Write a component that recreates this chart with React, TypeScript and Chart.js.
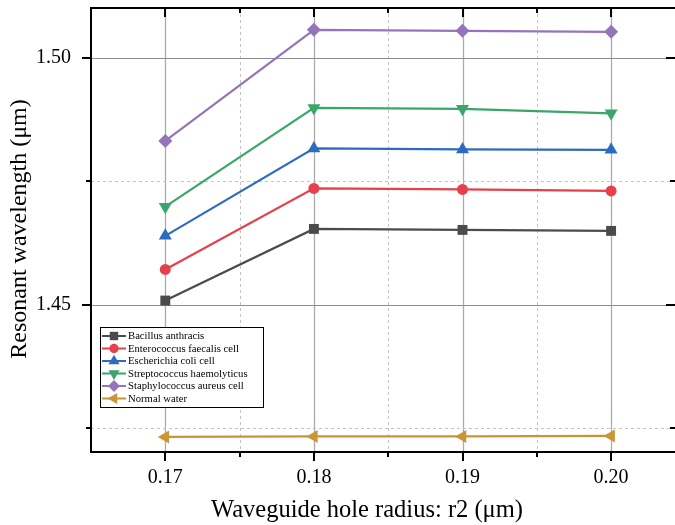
import React, { useEffect, useRef } from 'react';
import { Chart, registerables } from 'chart.js';

Chart.register(...registerables);

const radii = [0.17, 0.18, 0.19, 0.2];
const bacillus = [1.4509, 1.4654, 1.4652, 1.465];
const enterococcus = [1.4572, 1.4736, 1.4734, 1.4731];
const escherichia = [1.464, 1.4817, 1.4815, 1.4814];
const streptococcus = [1.4699, 1.4899, 1.4897, 1.4888];
const staphylococcus = [1.4832, 1.5057, 1.5055, 1.5053];
const normalWater = [1.4233, 1.4234, 1.4234, 1.4235];

const seriesNames = [
  'Bacillus anthracis',
  'Enterococcus faecalis cell',
  'Escherichia coli cell',
  'Streptococcus haemolyticus',
  'Staphylococcus aureus cell',
  'Normal water',
];

const xTickValues = [0.17, 0.175, 0.18, 0.185, 0.19, 0.195, 0.2];
const xMajorTicks = [0.17, 0.18, 0.19, 0.2];
const yTickValues = [1.425, 1.45, 1.475, 1.5];
const yMajorTicks = [1.45, 1.5];

const xTitle = 'Waveguide hole radius: r2 (\u03bcm)';
const yTitle = 'Resonant wavelength (\u03bcm)';

const SERIF = "'Liberation Serif', 'Times New Roman', serif";

const isMajor = (list: number[], v: number) => list.some((m) => Math.abs(m - v) < 1e-9);

type Style = { color: string; pointStyle: string; rotation: number; radius: number };
const styles: Style[] = [
  { color: '#4b4b4d', pointStyle: 'rect', rotation: 0, radius: 7 },
  { color: '#e5404b', pointStyle: 'circle', rotation: 0, radius: 5.5 },
  { color: '#2c6cbf', pointStyle: 'triangle', rotation: 0, radius: 7.5 },
  { color: '#3aa66a', pointStyle: 'triangle', rotation: 180, radius: 7.5 },
  { color: '#9475b9', pointStyle: 'rectRot', rotation: 0, radius: 7 },
  { color: '#c99535', pointStyle: 'triangle', rotation: -90, radius: 7.5 },
];

function drawMarker(ctx: CanvasRenderingContext2D, st: Style, x: number, y: number, r: number) {
  ctx.save();
  ctx.fillStyle = st.color;
  ctx.translate(x, y);
  ctx.rotate((st.rotation * Math.PI) / 180);
  ctx.beginPath();
  if (st.pointStyle === 'rect') {
    const s = Math.SQRT1_2 * r;
    ctx.rect(-s, -s, 2 * s, 2 * s);
  } else if (st.pointStyle === 'circle') {
    ctx.arc(0, 0, r, 0, Math.PI * 2);
  } else if (st.pointStyle === 'triangle') {
    ctx.moveTo(0, -r);
    ctx.lineTo(r * 0.866, r * 0.5);
    ctx.lineTo(-r * 0.866, r * 0.5);
    ctx.closePath();
  } else {
    ctx.moveTo(0, -r);
    ctx.lineTo(r, 0);
    ctx.lineTo(0, r);
    ctx.lineTo(-r, 0);
    ctx.closePath();
  }
  ctx.fill();
  ctx.restore();
}

const gridPlugin = {
  id: 'customGrid',
  beforeDatasetsDraw(chart: any) {
    const { ctx, chartArea: a, scales } = chart;
    const xs = scales.x;
    const ys = scales.y;
    ctx.save();
    xTickValues.forEach((v) => {
      const px = Math.round(xs.getPixelForValue(v)) + 0.5;
      const major = isMajor(xMajorTicks, v);
      ctx.beginPath();
      ctx.strokeStyle = major ? '#ababab' : '#c4c4c4';
      ctx.lineWidth = major ? 1.3 : 1;
      ctx.setLineDash(major ? [] : [3, 3]);
      ctx.moveTo(px, a.top);
      ctx.lineTo(px, a.bottom);
      ctx.stroke();
    });
    yTickValues.forEach((v) => {
      const py = Math.round(ys.getPixelForValue(v)) + 0.5;
      const major = isMajor(yMajorTicks, v);
      ctx.beginPath();
      ctx.strokeStyle = major ? '#8e8e8e' : '#c4c4c4';
      ctx.lineWidth = 1;
      ctx.setLineDash(major ? [] : [3, 3]);
      ctx.moveTo(a.left, py);
      ctx.lineTo(a.right, py);
      ctx.stroke();
    });
    ctx.restore();
  },
  afterDraw(chart: any) {
    const { ctx, chartArea: a, scales } = chart;
    const xs = scales.x;
    const ys = scales.y;
    ctx.save();
    ctx.setLineDash([]);
    ctx.strokeStyle = '#000';
    ctx.lineWidth = 2;
    // frame
    ctx.beginPath();
    ctx.moveTo(a.left, a.bottom);
    ctx.lineTo(a.left, a.top);
    ctx.lineTo(a.right, a.top);
    ctx.moveTo(a.left - 1, a.bottom);
    ctx.lineTo(a.right, a.bottom);
    ctx.stroke();
    // ticks
    ctx.lineWidth = 2;
    xTickValues.forEach((v) => {
      const px = Math.round(xs.getPixelForValue(v));
      const len = isMajor(xMajorTicks, v) ? 9 : 5;
      ctx.beginPath();
      ctx.moveTo(px, a.bottom);
      ctx.lineTo(px, a.bottom + len);
      ctx.moveTo(px, a.top);
      ctx.lineTo(px, a.top + len);
      ctx.stroke();
    });
    yTickValues.forEach((v) => {
      const py = Math.round(ys.getPixelForValue(v));
      const len = isMajor(yMajorTicks, v) ? 9 : 5;
      ctx.beginPath();
      ctx.moveTo(a.left, py);
      ctx.lineTo(a.left - len, py);
      ctx.moveTo(a.right, py);
      ctx.lineTo(a.right - len, py);
      ctx.stroke();
    });
    // axis titles
    ctx.fillStyle = '#000';
    ctx.textAlign = 'center';
    ctx.textBaseline = 'middle';
    ctx.font = `24.5px ${SERIF}`;
    ctx.fillText(xTitle, 367, 511);
    ctx.save();
    ctx.font = `24px ${SERIF}`;
    ctx.translate(20, 229);
    ctx.rotate(-Math.PI / 2);
    ctx.fillText(yTitle, 0, 0);
    ctx.restore();
    // legend
    const lx = 100;
    const ly = 327;
    const lw = 163;
    const lh = 80;
    ctx.fillStyle = '#fff';
    ctx.fillRect(lx, ly, lw, lh);
    ctx.strokeStyle = '#000';
    ctx.lineWidth = 1;
    ctx.strokeRect(lx + 0.5, ly + 0.5, lw, lh);
    ctx.font = `10.7px ${SERIF}`;
    ctx.textAlign = 'left';
    seriesNames.forEach((name, i) => {
      const st = styles[i];
      const cy = ly + 9 + i * 12.5;
      ctx.strokeStyle = st.color;
      ctx.lineWidth = 2;
      ctx.beginPath();
      ctx.moveTo(lx + 2, cy);
      ctx.lineTo(lx + 26, cy);
      ctx.stroke();
      drawMarker(ctx, st, lx + 14, cy, st.radius * 0.85);
      ctx.fillStyle = '#000';
      ctx.fillText(name, lx + 28, cy + 0.5);
    });
    ctx.restore();
  },
};

const zeroPad = (scale: any) => {
  scale.paddingTop = 0;
  scale.paddingBottom = 0;
  scale.paddingLeft = 0;
  scale.paddingRight = 0;
};

export default function App() {
  const ref = useRef<HTMLCanvasElement>(null);
  useEffect(() => {
    if (!ref.current) return;
    const allSeries = [bacillus, enterococcus, escherichia, streptococcus, staphylococcus, normalWater];
    const chart = new Chart(ref.current, {
      type: 'line',
      data: {
        datasets: allSeries.map((vals, i) => ({
          label: seriesNames[i],
          data: vals.map((y, j) => ({ x: radii[j], y })),
          borderColor: styles[i].color,
          backgroundColor: styles[i].color,
          pointBackgroundColor: styles[i].color,
          pointBorderColor: styles[i].color,
          pointBorderWidth: 0,
          pointStyle: styles[i].pointStyle as any,
          pointRotation: styles[i].rotation,
          pointRadius: styles[i].radius,
          borderWidth: 2.2,
          tension: 0,
        })),
      },
      options: {
        animation: false,
        responsive: false,
        maintainAspectRatio: false,
        layout: { autoPadding: false, padding: { top: 8, left: 0, right: -8, bottom: 0 } },
        plugins: { legend: { display: false }, tooltip: { enabled: false } },
        scales: {
          x: {
            type: 'linear',
            min: 0.165,
            max: 0.2043,
            afterBuildTicks: (scale: any) => {
              scale.ticks = xTickValues.map((v) => ({ value: v }));
            },
            afterFit: (scale: any) => {
              scale.height = 73;
              zeroPad(scale);
            },
            grid: { display: false, drawTicks: false },
            border: { display: false },
            ticks: {
              padding: 14,
              color: '#000',
              font: { family: SERIF, size: 20 },
              maxRotation: 0,
              autoSkip: false,
              callback: (v: any) => (isMajor(xMajorTicks, Number(v)) ? Number(v).toFixed(2) : ''),
            },
          },
          y: {
            type: 'linear',
            min: 1.42024,
            max: 1.51012,
            afterBuildTicks: (scale: any) => {
              scale.ticks = yTickValues.map((v) => ({ value: v }));
            },
            afterFit: (scale: any) => {
              scale.width = 91;
              zeroPad(scale);
            },
            grid: { display: false, drawTicks: false },
            border: { display: false },
            ticks: {
              padding: 20,
              color: '#000',
              font: { family: SERIF, size: 20 },
              autoSkip: false,
              callback: (v: any) => (isMajor(yMajorTicks, Number(v)) ? Number(v).toFixed(2) : ''),
            },
          },
        },
      },
      plugins: [gridPlugin],
    });
    return () => chart.destroy();
  }, []);
  return (
    <div style={{ position: 'fixed', left: 0, top: 0, width: 675, height: 525, background: '#fff' }}>
      <canvas ref={ref} width={675} height={525} />
    </div>
  );
}
